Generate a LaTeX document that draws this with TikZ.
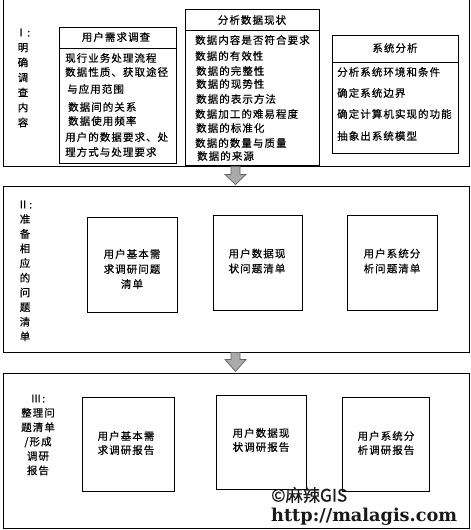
\documentclass[tikz,border=0pt]{standalone}
\usepackage{fontspec}
\usepackage{graphicx}
\newfontfamily\cjk[LetterSpace=10,FakeBold=0.4]{Noto Sans CJK SC}
\newfontfamily\cjkn[FakeBold=0.6]{Noto Sans CJK SC}
\newfontfamily\slab{DejaVu Serif}
\usetikzlibrary{fit,calc}
\definecolor{arrowfill}{RGB}{170,170,170}
\definecolor{arrowline}{RGB}{100,100,100}
\begin{document}
\begin{tikzpicture}[x=1pt,y=-1pt,
  panel/.style={draw, line width=1pt, inner sep=0pt},
  txt/.style={font=\cjk\fontsize{10.5}{14}\selectfont, inner sep=0pt},
  item/.style={txt, anchor=west},
  ctxt/.style={font=\cjk\fontsize{10.5}{15}\selectfont, inner sep=0pt, align=center},
  vlabel/.style={inner sep=0pt, align=center},
  blockarrow/.style={fill=arrowfill, draw=arrowline, line width=0.7pt, line join=miter}]
\useasboundingbox (0,0) rectangle (471,530);

% panels
\node[panel, fit={(3,-3) (469,166)}] (p1) {};
\node[panel, fit={(3,186) (469,352)}] (p2) {};
\node[panel, fit={(3,373) (469,528)}] (p3) {};

% arrows between panels
\draw[blockarrow] ($(p1.south)+(-5,0)$) -- ($(p2.north)+(-5,-11)$) -- ($(p2.north)+(-11,-11)$)
  -- ($(p2.north)+(-0.5,-1)$) -- ($(p2.north)+(10,-11)$) -- ($(p2.north)+(4,-11)$)
  -- ($(p1.south)+(4,0)$) -- cycle;
\draw[blockarrow] ($(p2.south)+(-5,0)$) -- ($(p3.north)+(-5,-13)$) -- ($(p3.north)+(-11,-13)$)
  -- ($(p3.north)+(-0.5,-1)$) -- ($(p3.north)+(10,-13)$) -- ($(p3.north)+(4,-13)$)
  -- ($(p2.south)+(4,0)$) -- cycle;

% panel labels
\node[vlabel, font=\cjk\fontsize{10.5}{15}\selectfont] (L1) at (23,78) {Ⅰ:\\明\\确\\调\\查\\内\\容};
\node[vlabel, font=\cjk\fontsize{10.5}{14.67}\selectfont] (L2) at (25,271) {Ⅱ:\\准\\备\\相\\应\\的\\问\\题\\清\\单};
\node[vlabel, font=\cjk\fontsize{10.5}{14.4}\selectfont] (L3) at (38,435) {Ⅲ:\\整理问\\题清单\\/形成\\调研\\报告};

% box 1
\node[panel, fit={(59,27) (176,163)}] (b1) {};
\draw[line width=1pt] (b1.west |- 0,48) -- (b1.east |- 0,48);
\node[txt] (b1t) at (116,37) {用户需求调查};
\foreach \t/\x/\y [count=\i] in {现行业务处理流程/65/58, 数据性质、获取途径/65/72, 与应用范围/67/89,
  数据间的关系/68/107, 数据使用频率/68/121, 用户的数据要求、处/65/137, 理方式与处理要求/65/152}
  \node[item] (b1i\i) at (\x,\y) {\t};

% box 2
\node[panel, fit={(185,9) (319,165)}] (b2) {};
\draw[line width=1pt] (b2.west |- 0,30) -- (b2.east |- 0,30);
\node[txt] (b2t) at (252,20) {分析数据现状};
\foreach \t/\x/\y [count=\i] in {数据内容是否符合要求/195/40, 数据的有效性/195/56, 数据的完整性/196/71,
  数据的现势性/196/84, 数据的表示方法/196/99, 数据加工的难易程度/195/114, 数据的标准化/196/128,
  数据的数量与质量/195/143, 数据的来源/197/156}
  \node[item] (b2i\i) at (\x,\y) {\t};

% box 3
\node[panel, fit={(332,35) (458,153)}] (b3) {};
\draw[line width=1pt] (b3.west |- 0,62) -- (b3.east |- 0,62);
\node[txt] (b3t) at (395,48) {系统分析};
\foreach \t/\y [count=\i] in {分析系统环境和条件/72, 确定系统边界/93, 确定计算机实现的功能/114, 抽象出系统模型/136}
  \node[item] (b3i\i) at (337,\y) {\t};

% panel 2 boxes
\node[panel, fit={(87,217) (177,312)}] (q1) {};
\node[ctxt] (q1t) at (132,269) {用户基本需\\求调研问题\\清单};
\node[panel, fit={(213,215) (302,310)}] (q2) {};
\node[ctxt] (q2t) at (257,261) {用户数据现\\状问题清单};
\node[panel, fit={(347,215) (437,310)}] (q3) {};
\node[ctxt] (q3t) at (392,261) {用户系统分\\析问题清单};

% panel 3 boxes
\node[panel, fit={(82,397) (174,491)}] (r1) {};
\node[ctxt, font=\cjk\fontsize{10.5}{14}\selectfont] (r1t) at (126,443) {用户基本需\\求调研报告};
\node[panel, fit={(216,395) (306,489)}] (r2) {};
\node[ctxt, font=\cjk\fontsize{10.5}{14}\selectfont] (r2t) at (261,440) {用户数据现\\状调研报告};
\node[panel, fit={(342,397) (429,491)}] (r3) {};
\node[ctxt, font=\cjk\fontsize{10.5}{14}\selectfont] (r3t) at (386,443) {用户系统分\\析调研报告};

% watermark
\node[anchor=west, inner sep=0pt, text=black!90] (wm1) at (271,495) {\resizebox{76pt}{!}{\cjkn ©麻辣GIS}};
\node[anchor=west, inner sep=0pt, text=black!90] (wm2) at (271,517) {\resizebox{186pt}{!}{\slab\bfseries http://malagis.com}};
\end{tikzpicture}
\end{document}
